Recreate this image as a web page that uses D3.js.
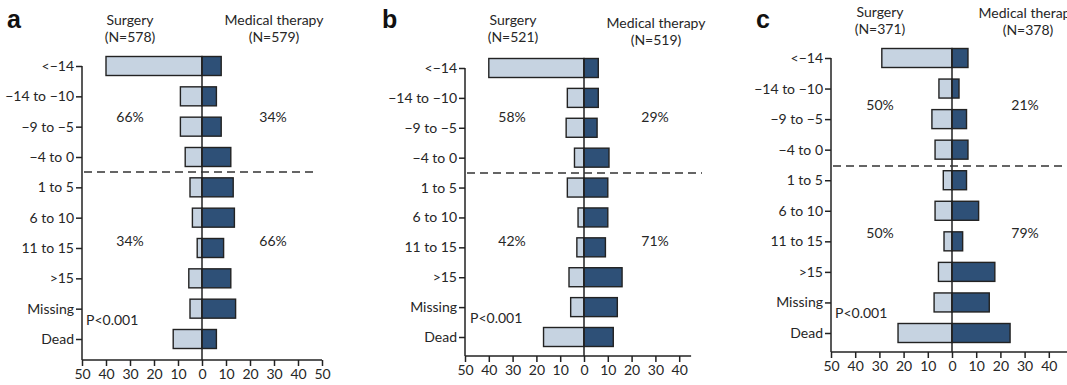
<!DOCTYPE html>
<html>
<head>
<meta charset="utf-8">
<script src="https://cdn.jsdelivr.net/npm/d3@7"></script>
<style>
  html, body { margin: 0; padding: 0; background: #fff; }
  svg { display: block; }
  text { font-family: Lato, "Open Sans", sans-serif; fill: #262626; }
</style>
</head>
<body>
<svg id="chart" width="1067" height="385"></svg>
<script>
// Change in score categories (rows, top to bottom)
const categories = ["<\u221214", "\u221214 to \u221210", "\u22129 to \u22125", "\u22124 to 0",
  "1 to 5", "6 to 10", "11 to 15", ">15", "Missing", "Dead"];

// Percent of patients in each category
const surgeryA = [40, 9, 9, 7, 5, 4, 2, 5.5, 5, 12];
const medicalA = [8, 6, 8, 12, 13, 13.5, 9, 12, 14, 6];
const surgeryB = [40, 7, 7.5, 4, 7, 2.5, 3, 6.3, 5.6, 17];
const medicalB = [6, 6, 5.5, 10.5, 10, 10, 9, 16, 14, 12.3];
const surgeryC = [29, 5.4, 8.3, 7, 3.6, 7, 3.3, 5.6, 7.4, 22.3];
const medicalC = [6.6, 2.9, 6, 6.6, 6, 11, 4.4, 17.7, 15.4, 24];

// Group headers
const surgeryN = ["(N=578)", "(N=521)", "(N=371)"];
const medicalN = ["(N=579)", "(N=519)", "(N=378)"];

// Summary percentages: [surgery upper, medical upper, surgery lower, medical lower]
const summaryA = ["66%", "34%", "34%", "66%"];
const summaryB = ["58%", "29%", "42%", "71%"];
const summaryC = ["50%", "21%", "50%", "79%"];

// Axis tick values (left side shown as absolute values)
const ticksA = [-50, -40, -30, -20, -10, 0, 10, 20, 30, 40, 50];
const ticksB = [-50, -40, -30, -20, -10, 0, 10, 20, 30, 40];
const ticksC = [-50, -40, -30, -20, -10, 0, 10, 20, 30, 40];

const pValue = "P<0.001";

const LIGHT = "#c6d3e1";
const DARK = "#2e5077";
const INK = "#222";

const svg = d3.select("#chart");

function drawPanel(p) {
  const g = svg.append("g");
  const x = d3.scaleLinear().domain([-50, 50]).range([p.x0, p.x0 + 100 * p.pxPerUnit]);
  const y = d3.scalePoint().domain(categories).range([p.yFirst, p.yLast]);
  const barH = 19;
  const xEnd = x(p.axisMax);

  // Panel letter
  g.append("text").attr("x", p.letterX).attr("y", 28)
    .style("font-family", "'Liberation Sans', Arial, sans-serif")
    .style("font-weight", "bold").style("font-size", "25px").style("fill", "#111")
    .text(p.letter);

  // Column headers
  const hdr = [
    { t: "Surgery", cx: p.surgX, cy: p.hdrY1 },
    { t: surgeryN[p.i], cx: p.surgX, cy: p.hdrY1 + 17 },
    { t: "Medical therapy", cx: p.medX, cy: p.hdrY2 },
    { t: medicalN[p.i], cx: p.medX, cy: p.hdrY2 + 17 }
  ];
  g.selectAll("text.hdr").data(hdr).join("text").attr("class", "hdr")
    .attr("x", d => d.cx).attr("y", d => d.cy).attr("dy", "0.35em")
    .attr("text-anchor", "middle").style("font-size", "14px").text(d => d.t);

  // Bars: surgery to the left, medical therapy to the right
  g.selectAll("rect.surg").data(categories).join("rect").attr("class", "surg")
    .attr("x", (c, i) => x(-p.surgery[i])).attr("y", c => y(c) - barH / 2)
    .attr("width", (c, i) => x(0) - x(-p.surgery[i])).attr("height", barH)
    .attr("fill", LIGHT).attr("stroke", INK).attr("stroke-width", 1.4);
  g.selectAll("rect.med").data(categories).join("rect").attr("class", "med")
    .attr("x", x(0)).attr("y", c => y(c) - barH / 2)
    .attr("width", (c, i) => x(p.medical[i]) - x(0)).attr("height", barH)
    .attr("fill", DARK).attr("stroke", INK).attr("stroke-width", 1.4);

  // Centre line at zero
  g.append("line").attr("x1", x(0)).attr("x2", x(0))
    .attr("y1", p.yFirst - barH / 2).attr("y2", p.axisY)
    .attr("stroke", INK).attr("stroke-width", 1.5);

  // Dashed separator between worse and better outcomes
  g.append("line").attr("x1", p.x0 + 2).attr("x2", p.dashEnd)
    .attr("y1", p.dashY).attr("y2", p.dashY)
    .attr("stroke", "#333").attr("stroke-width", 1.5).attr("stroke-dasharray", "8,5");

  // Category axis
  const yAxis = d3.axisLeft(y).tickSizeOuter(0).tickSize(6).tickPadding(2);
  const ya = g.append("g").attr("transform", `translate(${p.x0},0)`).call(yAxis);
  ya.select(".domain").remove();
  ya.append("line").attr("x1", 0).attr("x2", 0).attr("y1", p.yFirst).attr("y2", p.axisY)
    .attr("stroke", INK).attr("stroke-width", 1.5);
  ya.selectAll(".tick line").attr("stroke", INK).attr("stroke-width", 1.5);
  ya.selectAll(".tick text").style("font-size", "14px").style("font-family", "Lato, sans-serif").attr("fill", "#262626");

  // Percentage axis
  const xAxis = d3.axisBottom(x).tickValues(p.ticks).tickFormat(v => Math.abs(v))
    .tickSize(6).tickSizeOuter(0).tickPadding(3);
  const xa = g.append("g").attr("transform", `translate(0,${p.axisY})`).call(xAxis);
  xa.select(".domain").remove();
  xa.append("line").attr("x1", p.x0).attr("x2", xEnd).attr("y1", 0).attr("y2", 0)
    .attr("stroke", INK).attr("stroke-width", 1.5);
  xa.selectAll(".tick line").attr("stroke", INK).attr("stroke-width", 1.5);
  xa.selectAll(".tick text").style("font-size", "14px").style("font-family", "Lato, sans-serif").attr("fill", "#262626");

  // Summary percentages
  const sums = [
    { t: p.summary[0], cx: p.sumL, cy: p.sumY1 },
    { t: p.summary[1], cx: p.sumR, cy: p.sumY1 },
    { t: p.summary[2], cx: p.sumL, cy: p.sumY2 },
    { t: p.summary[3], cx: p.sumR, cy: p.sumY2 }
  ];
  g.selectAll("text.sum").data(sums).join("text").attr("class", "sum")
    .attr("x", d => d.cx).attr("y", d => d.cy).attr("dy", "0.35em")
    .attr("text-anchor", "middle").style("font-size", "14px").text(d => d.t);

  g.append("text").attr("x", p.pX).attr("y", p.pY).attr("dy", "0.35em")
    .style("font-size", "14px").text(pValue);
}

drawPanel({ i: 0, letter: "a", letterX: 7, x0: 82, pxPerUnit: 2.4, yFirst: 66, yLast: 339, axisY: 360,
  axisMax: 50, dashY: 172, dashEnd: 318, surgery: surgeryA, medical: medicalA, ticks: ticksA,
  summary: summaryA, surgX: 130, medX: 274, hdrY1: 20, hdrY2: 20,
  sumL: 130, sumR: 273, sumY1: 117, sumY2: 241, pX: 86, pY: 320 });

drawPanel({ i: 1, letter: "b", letterX: 382, x0: 465, pxPerUnit: 2.38, yFirst: 68, yLast: 337, axisY: 356,
  axisMax: 45, dashEnd: 702, dashY: 173, surgery: surgeryB, medical: medicalB, ticks: ticksB,
  summary: summaryB, surgX: 513, medX: 656, hdrY1: 20, hdrY2: 23,
  sumL: 512, sumR: 655, sumY1: 117, sumY2: 241, pX: 470, pY: 318 });

drawPanel({ i: 2, letter: "c", letterX: 756, x0: 831, pxPerUnit: 2.42, yFirst: 58, yLast: 333, axisY: 352,
  axisMax: 48, dashEnd: 1067, dashY: 166, surgery: surgeryC, medical: medicalC, ticks: ticksC,
  summary: summaryC, surgX: 880, medX: 1028, hdrY1: 12, hdrY2: 13,
  sumL: 880, sumR: 1025, sumY1: 105, sumY2: 233, pX: 835, pY: 313 });
</script>
</body>
</html>
